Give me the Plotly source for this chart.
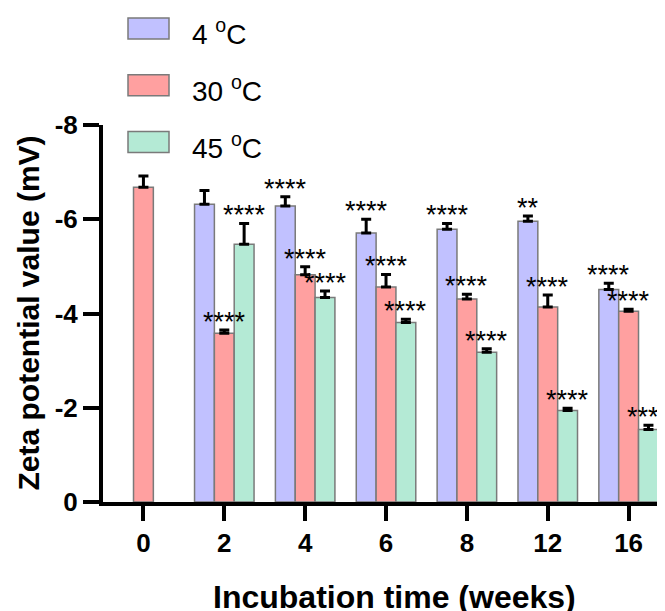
import plotly.graph_objects as go

weeks = ["0", "2", "4", "6", "8", "12", "16"]
series_names = ["4 <sup>o</sup>C", "30 <sup>o</sup>C", "45 <sup>o</sup>C"]
z4 = [None, -6.32, -6.28, -5.71, -5.79, -5.96, -4.51]
z4_err = [None, 0.29, 0.20, 0.29, 0.12, 0.11, 0.13]
z30 = [-6.68, -3.58, -4.82, -4.56, -4.31, -4.14, -4.05]
z30_err = [0.24, 0.07, 0.17, 0.27, 0.10, 0.25, 0.04]
z45 = [None, -5.47, -4.34, -3.81, -3.18, -1.94, -1.54]
z45_err = [None, 0.44, 0.14, 0.07, 0.07, 0.05, 0.09]
sig4 = ["", "", "****", "****", "****", "**", "****"]
sig30 = ["", "****", "****", "****", "****", "****", "****"]
sig45 = ["", "****", "****", "****", "****", "****", "****"]
y_ticks = [0, -2, -4, -6, -8]
y_ticktext = ["0", "-2", "-4", "-6", "-8"]

colors = ["#C1C1FF", "#FFA0A0", "#B4EAD5"]
values = [z4, z30, z45]
errors = [z4_err, z30_err, z45_err]
sigs = [sig4, sig30, sig45]

FONT = "Liberation Sans, Arial, sans-serif"
OFF = 8  # page body margin of the html page
W, H = 665 - OFF, 611 - OFF
ML, MT = 103 - OFF, 125 - OFF
MR, MB = 0, 611 - 502
PW, PH = W - ML - MR, H - MT - MB
BARGAP = 0.264
barw = (1 - BARGAP) / 3

xpos = list(range(len(weeks)))

fig = go.Figure()
for k in range(3):
    fig.add_trace(go.Bar(
        x=xpos, y=values[k], name=series_names[k],
        marker=dict(color=colors[k], line=dict(color="#7a7a7a", width=1.5)),
        error_y=dict(type="data", symmetric=False,
                     array=[0 if e is not None else None for e in errors[k]],
                     arrayminus=errors[k], color="black", thickness=3, width=5),
        showlegend=False,
    ))

annotations = []
for k in range(3):
    for i in xpos:
        s = sigs[k][i]
        v = values[k][i]
        if s and v is not None:
            annotations.append(dict(
                x=i + (k - 1) * barw, y=v - errors[k][i], xref="x", yref="y",
                text=s, showarrow=False, xanchor="center", yanchor="middle",
                yshift=8, font=dict(family=FONT, size=27, color="black")))

# custom legend (swatches + labels), positioned in page-pixel terms
def px2x(px):
    return (px - OFF - ML) / PW

def py2y(py):
    return (H - MB - (py - OFF)) / PH

shapes = []
for k in range(3):
    top = 18 + k * 56.8
    shapes.append(dict(type="rect", xref="paper", yref="paper",
                       x0=px2x(128), x1=px2x(169), y0=py2y(top), y1=py2y(top + 21),
                       fillcolor=colors[k], line=dict(color="#7a7a7a", width=1.5)))
    annotations.append(dict(x=px2x(190), y=py2y(top + 14), xref="paper", yref="paper",
                            text=series_names[k], showarrow=False, xanchor="left",
                            yanchor="middle", font=dict(family=FONT, size=28, color="black")))

annotations.append(dict(x=px2x(28), y=0.5, xref="paper", yref="paper",
                        text="<b>Zeta potential value (mV)</b>", textangle=-90,
                        showarrow=False, xanchor="center", yanchor="middle",
                        font=dict(family=FONT, size=30, color="black")))
annotations.append(dict(x=px2x(394), y=py2y(577), xref="paper", yref="paper",
                        text="<b>Incubation time (weeks)</b>",
                        showarrow=False, xanchor="center", yanchor="top",
                        font=dict(family=FONT, size=32, color="black")))

fig.update_layout(
    width=W, height=H,
    margin=dict(l=ML, r=MR, t=MT, b=MB, pad=0),
    paper_bgcolor="white", plot_bgcolor="white",
    barmode="group", bargap=BARGAP, bargroupgap=0,
    showlegend=False,
    annotations=annotations, shapes=shapes,
    xaxis=dict(range=[-0.5, 6.45], tickvals=xpos, ticktext=weeks,
               showgrid=False, zeroline=False, showline=True, linecolor="black",
               linewidth=4, ticks="outside", ticklen=15, tickwidth=4, tickcolor="black",
               tickfont=dict(family=FONT, size=26, color="black", weight="bold")),
    yaxis=dict(range=[0, -8], tickvals=y_ticks, ticktext=y_ticktext,
               showgrid=False, zeroline=False, showline=True, linecolor="black",
               linewidth=4, ticks="outside", ticklen=16, tickwidth=4, tickcolor="black",
               tickfont=dict(family=FONT, size=26, color="black", weight="bold")),
)

fig.write_html("out.html")
